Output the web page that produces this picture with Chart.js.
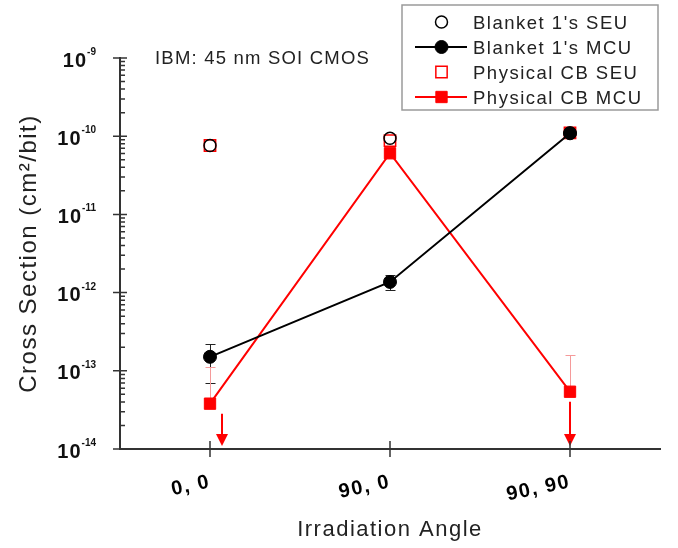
<!DOCTYPE html>
<html>
<head>
<meta charset="utf-8">
<title>Cross section vs irradiation angle</title>
<script src="https://cdn.jsdelivr.net/npm/chart.js"></script>
<style>
  html, body { margin: 0; padding: 0; background: #fff; }
  canvas { display: block; }
</style>
</head>
<body>
<canvas id="crossSection" width="678" height="548"></canvas>
<script>
// irradiation angles (tilt, roll)
const angles = ['0, 0', '90, 0', '90, 90'];

// Blanket 1 pattern
const blanketSeu = [7.6e-11, 9.4e-11, 1.1e-10];
const blanketMcu = [1.51e-13, 1.37e-12, 1.09e-10];
const blanketMcuLow = [7.05e-14, 1.09e-12, null];
const blanketMcuHigh = [2.22e-13, 1.7e-12, null];

// Physical checkerboard pattern
const physicalSeu = [7.6e-11, 8.8e-11, 1.1e-10];
const physicalMcu = [3.8e-14, 6.05e-11, 5.4e-14];
const physicalMcuHigh = [1.13e-13, null, 1.6e-13];
const physicalMcuLimit = [true, false, true];   // upper limit only

// y axis decades (powers of ten)
const decades = [-14, -13, -12, -11, -10, -9];

const FONT = "'Liberation Sans', Arial, sans-serif";
const RED = '#ff0000';

function drawMarker(ctx, ds, cx, cy) {
  ctx.save();
  ctx.lineWidth = ds.pointBorderWidth;
  ctx.strokeStyle = ds.pointBorderColor;
  ctx.fillStyle = ds.pointBackgroundColor;
  ctx.beginPath();
  if (ds.pointStyle === 'rect') {
    const h = ds.pointRadius * Math.SQRT1_2;
    ctx.rect(cx - h, cy - h, 2 * h, 2 * h);
  } else {
    ctx.arc(cx, cy, ds.pointRadius, 0, Math.PI * 2);
  }
  ctx.fill();
  ctx.stroke();
  ctx.restore();
}

const decorations = {
  id: 'decorations',
  beforeDraw(chart) {
    chart.ctx.letterSpacing = '1.5px';
  },
  beforeDatasetsDraw(chart, args, opts) {
    const { ctx, scales: { x, y }, chartArea } = chart;
    ctx.save();
    // error bars
    chart.data.datasets.forEach(ds => {
      if (!ds.errorHigh && !ds.errorLow) return;
      ctx.strokeStyle = ds.errorColor;
      ctx.lineWidth = 1;
      ds.data.forEach((v, i) => {
        const px = Math.round(x.getPixelForValue(i)) + 0.5;
        const py0 = y.getPixelForValue(v);
        [ds.errorHigh && ds.errorHigh[i], ds.errorLow && ds.errorLow[i]].forEach(e => {
          if (e == null) return;
          const py = Math.round(y.getPixelForValue(e)) + 0.5;
          ctx.beginPath();
          ctx.moveTo(px, py0);
          ctx.lineTo(px, py);
          ctx.moveTo(px - 5, py);
          ctx.lineTo(px + 5, py);
          ctx.stroke();
        });
      });
    });
    // upper-limit arrows
    chart.data.datasets.forEach(ds => {
      if (!ds.upperLimit) return;
      ctx.strokeStyle = ds.borderColor;
      ctx.fillStyle = ds.borderColor;
      ctx.lineWidth = 2;
      ds.upperLimit.forEach((lim, i) => {
        if (!lim) return;
        const px = x.getPixelForValue(i) + (opts.arrowShift[i] || 0);
        const top = y.getPixelForValue(ds.data[i]) + 10;
        const tip = chartArea.bottom - 3;
        ctx.beginPath();
        ctx.moveTo(px, top);
        ctx.lineTo(px, tip - 10);
        ctx.stroke();
        ctx.beginPath();
        ctx.moveTo(px - 6, tip - 12);
        ctx.lineTo(px + 6, tip - 12);
        ctx.lineTo(px, tip);
        ctx.closePath();
        ctx.fill();
      });
    });
    ctx.restore();
  },
  afterDraw(chart, args, opts) {
    const { ctx, scales: { x, y }, chartArea } = chart;
    const { left, top, bottom } = chartArea;
    ctx.save();
    ctx.strokeStyle = '#333';
    ctx.lineWidth = 1.5;

    // y axis ticks: majors cross the axis, minors point inward
    ctx.beginPath();
    decades.forEach((p, k) => {
      const py = y.getPixelForValue(Math.pow(10, p));
      ctx.moveTo(left - 7, py);
      ctx.lineTo(left + 7, py);
      if (k < decades.length - 1) {
        for (let m = 2; m <= 9; m++) {
          const pm = y.getPixelForValue(m * Math.pow(10, p));
          ctx.moveTo(left, pm);
          ctx.lineTo(left + 5, pm);
        }
      }
    });
    // x axis ticks
    angles.forEach((_, i) => {
      const px = x.getPixelForValue(i);
      ctx.moveTo(px, bottom - 8);
      ctx.lineTo(px, bottom + 8);
    });
    ctx.stroke();

    // y tick labels as 10 with superscript exponent
    ctx.fillStyle = '#111';
    ctx.textAlign = 'left';
    ctx.textBaseline = 'alphabetic';
    decades.forEach(p => {
      const py = y.getPixelForValue(Math.pow(10, p));
      const exp = String(p);
      ctx.font = 'bold 20px ' + FONT;
      ctx.letterSpacing = '1px';
      const wBase = ctx.measureText('10').width;
      ctx.font = 'bold 10px ' + FONT;
      ctx.letterSpacing = '0px';
      const wExp = ctx.measureText(exp).width;
      const x0 = left - 24 - wBase - wExp;
      ctx.font = 'bold 20px ' + FONT;
      ctx.letterSpacing = '1px';
      ctx.fillText('10', x0, py + 8.5);
      ctx.font = 'bold 10px ' + FONT;
      ctx.letterSpacing = '0px';
      ctx.fillText(exp, x0 + wBase, py - 3);
    });

    // annotation
    ctx.font = '18.5px ' + FONT;
    ctx.letterSpacing = '1.2px';
    ctx.fillStyle = '#222';
    ctx.fillText(opts.note, left + 35, top + 6);

    // legend
    const L = opts.legend;
    ctx.fillStyle = '#fff';
    ctx.fillRect(L.x, L.y, L.w, L.h);
    ctx.strokeStyle = '#9a9a9a';
    ctx.lineWidth = 1.5;
    ctx.strokeRect(L.x, L.y, L.w, L.h);
    ctx.font = '18.5px ' + FONT;
    ctx.letterSpacing = '1.5px';
    chart.data.datasets.forEach((ds, i) => {
      const cy = L.y + 17 + i * L.row;
      const cx = L.x + 39.5;
      if (ds.showLine !== false) {
        ctx.strokeStyle = ds.borderColor;
        ctx.lineWidth = ds.borderWidth;
        ctx.beginPath();
        ctx.moveTo(L.x + 13, cy);
        ctx.lineTo(L.x + 65, cy);
        ctx.stroke();
      }
      drawMarker(ctx, ds, cx, cy);
      ctx.fillStyle = '#222';
      ctx.fillText(ds.label, L.x + 71, cy + 6.5);
    });
    ctx.restore();
  }
};

new Chart(document.getElementById('crossSection'), {
  type: 'line',
  data: {
    labels: angles,
    datasets: [
      {
        label: "Blanket 1's SEU",
        data: blanketSeu,
        showLine: false,
        pointStyle: 'circle',
        pointRadius: 6,
        pointBorderWidth: 1.5,
        pointBorderColor: '#000',
        pointBackgroundColor: 'rgba(255,255,255,0)',
        borderColor: '#000'
      },
      {
        label: "Blanket 1's MCU",
        data: blanketMcu,
        errorLow: blanketMcuLow,
        errorHigh: blanketMcuHigh,
        errorColor: '#222',
        borderColor: '#000',
        borderWidth: 2,
        pointStyle: 'circle',
        pointRadius: 6.5,
        pointBorderWidth: 1,
        pointBorderColor: '#000',
        pointBackgroundColor: '#000'
      },
      {
        label: 'Physical CB SEU',
        data: physicalSeu,
        showLine: false,
        pointStyle: 'rect',
        pointRadius: 8,
        pointBorderWidth: 1.5,
        pointBorderColor: RED,
        pointBackgroundColor: 'rgba(255,255,255,0)',
        borderColor: RED
      },
      {
        label: 'Physical CB MCU',
        data: physicalMcu,
        errorHigh: physicalMcuHigh,
        errorColor: '#f59a9a',
        upperLimit: physicalMcuLimit,
        borderColor: RED,
        borderWidth: 2,
        pointStyle: 'rect',
        pointRadius: 8,
        pointBorderWidth: 1,
        pointBorderColor: RED,
        pointBackgroundColor: RED
      }
    ]
  },
  options: {
    responsive: false,
    animation: false,
    events: [],
    layout: { padding: { top: 58, right: 18, bottom: 0, left: 0 } },
    plugins: {
      legend: { display: false },
      tooltip: { enabled: false },
      decorations: {
        note: 'IBM: 45 nm SOI CMOS',
        arrowShift: [12, 0, 0],
        legend: { x: 402, y: 5, w: 256, h: 105, row: 25 }
      }
    },
    scales: {
      x: {
        type: 'category',
        offset: true,
        grid: { display: false, drawTicks: false },
        border: { display: true, color: '#333', width: 2 },
        ticks: {
          font: { family: FONT, size: 20, weight: 'bold' },
          color: '#000',
          minRotation: 12,
          maxRotation: 12,
          autoSkip: false,
          padding: 21
        },
        title: {
          display: true,
          text: 'Irradiation Angle',
          font: { family: FONT, size: 22 },
          color: '#222',
          padding: { top: 0, bottom: 5 }
        },
        afterFit(scale) { scale.height = 99; }
      },
      y: {
        type: 'logarithmic',
        min: 1e-14,
        max: 1e-9,
        grid: { display: false },
        border: { display: true, color: '#333', width: 2 },
        ticks: { display: false },
        title: {
          display: true,
          text: 'Cross Section (cm²/bit)',
          font: { family: FONT, size: 24 },
          color: '#222',
          padding: { top: 15, bottom: 0 }
        },
        afterFit(scale) { scale.width = 120; }
      }
    }
  },
  plugins: [decorations]
});
</script>
</body>
</html>
